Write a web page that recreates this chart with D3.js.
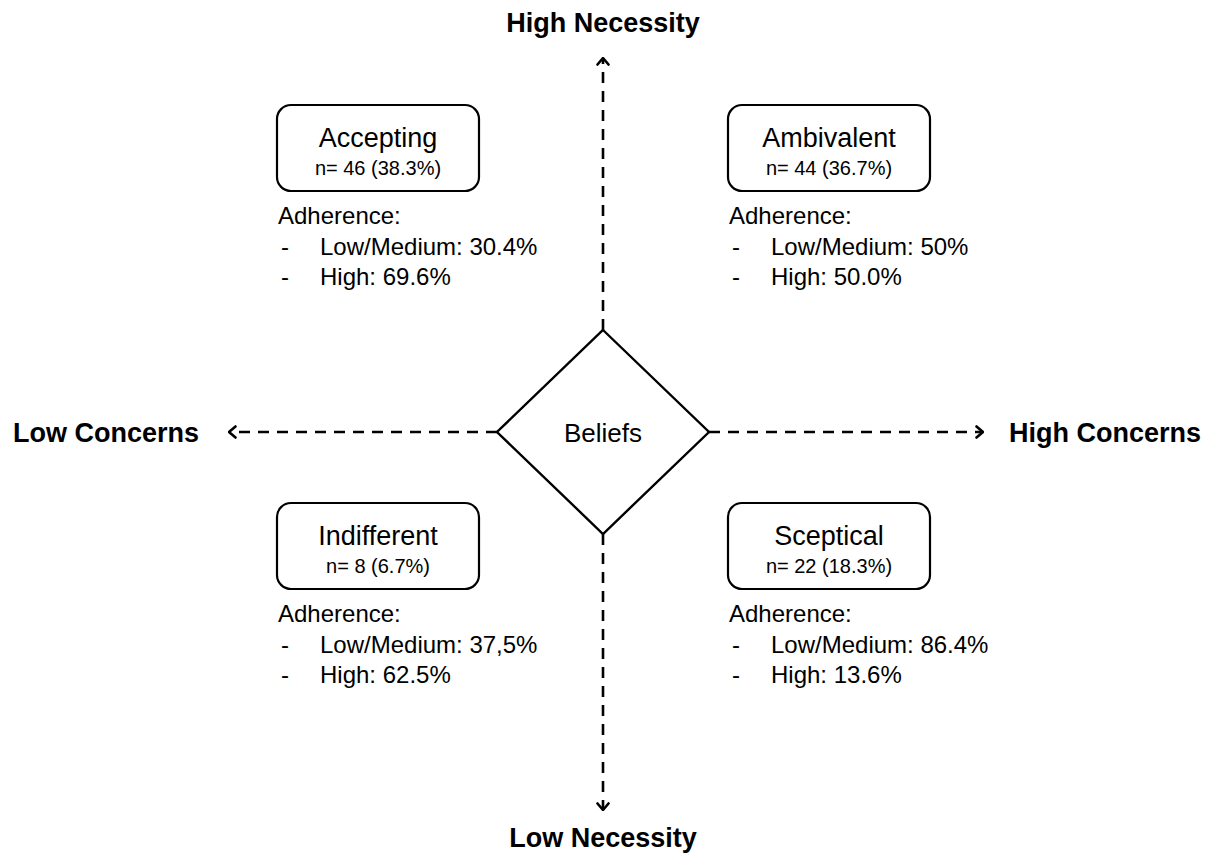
<!DOCTYPE html>
<html>
<head>
<meta charset="utf-8">
<script src="https://cdn.jsdelivr.net/npm/d3@7"></script>
<style>
  html, body { margin: 0; padding: 0; background: #fff; }
  svg { display: block; font-family: "Liberation Sans", Arial, Helvetica, sans-serif; }
</style>
</head>
<body>
<svg id="chart" width="1214" height="858"></svg>
<script>
// ---- data ----
const categories = ["Accepting", "Ambivalent", "Indifferent", "Sceptical"];
const concernLevel = ["Low", "High", "Low", "High"];
const necessityLevel = ["High", "High", "Low", "Low"];
const counts = [46, 44, 8, 22];
const shares = ["38.3%", "36.7%", "6.7%", "18.3%"];
const lowMediumAdherence = ["30.4%", "50%", "37,5%", "86.4%"];
const highAdherence = ["69.6%", "50.0%", "62.5%", "13.6%"];
const axisLabels = { top: "High Necessity", bottom: "Low Necessity", left: "Low Concerns", right: "High Concerns" };
const centerLabel = "Beliefs";

// ---- layout ----
const svg = d3.select("#chart");
const cx = 603, cy = 432;
const x = d3.scaleOrdinal().domain(["Low", "High"]).range([277, 728]);   // box left edge
const y = d3.scaleOrdinal().domain(["High", "Low"]).range([105, 503]);   // box top edge
const boxW = 202, boxH = 86;
const dx = 106, dy = 102; // diamond half sizes

const ink = "#000";

// arrow marker (open chevron)
const defs = svg.append("defs");
defs.append("marker")
  .attr("id", "chev")
  .attr("viewBox", "0 -7 10 14")
  .attr("refX", 9).attr("refY", 0)
  .attr("markerWidth", 10).attr("markerHeight", 14)
  .attr("markerUnits", "userSpaceOnUse")
  .attr("orient", "auto")
  .append("path")
  .attr("d", "M2.5,-5.5 L9,0 L2.5,5.5")
  .attr("fill", "none").attr("stroke", ink).attr("stroke-width", 2.6)
  .attr("stroke-linecap", "round").attr("stroke-linejoin", "round");

const arrows = [
  { x1: cx, y1: cy - dy, x2: cx, y2: 58 },
  { x1: cx, y1: cy + dy, x2: cx, y2: 810 },
  { x1: cx - dx, y1: cy, x2: 229, y2: cy },
  { x1: cx + dx, y1: cy, x2: 983, y2: cy }
];
svg.selectAll("line.axis").data(arrows).join("line")
  .attr("class", "axis")
  .attr("x1", d => d.x1).attr("y1", d => d.y1)
  .attr("x2", d => d.x2).attr("y2", d => d.y2)
  .attr("stroke", ink).attr("stroke-width", 2.6)
  .attr("stroke-dasharray", "11 8")
  .attr("marker-end", "url(#chev)");

// diamond
svg.append("path")
  .attr("d", d3.line()([[cx, cy - dy], [cx + dx, cy], [cx, cy + dy], [cx - dx, cy]]) + "Z")
  .attr("fill", "#fff").attr("stroke", ink).attr("stroke-width", 2.4)
  .attr("stroke-linejoin", "miter");
svg.append("text").attr("x", cx).attr("y", cy + 10)
  .attr("text-anchor", "middle").attr("font-size", 26).text(centerLabel);

// axis labels
svg.append("text").attr("x", cx).attr("y", 32).attr("text-anchor", "middle")
  .attr("font-size", 27).attr("font-weight", "bold").text(axisLabels.top);
svg.append("text").attr("x", cx).attr("y", 847).attr("text-anchor", "middle")
  .attr("font-size", 27).attr("font-weight", "bold").text(axisLabels.bottom);
svg.append("text").attr("x", 13).attr("y", 442).attr("text-anchor", "start")
  .attr("font-size", 27).attr("font-weight", "bold").text(axisLabels.left);
svg.append("text").attr("x", 1201).attr("y", 442).attr("text-anchor", "end")
  .attr("font-size", 27).attr("font-weight", "bold").text(axisLabels.right);

// quadrants
const quads = categories.map((c, i) => ({
  name: c, n: counts[i], share: shares[i],
  low: lowMediumAdherence[i], high: highAdherence[i],
  x0: x(concernLevel[i]), y0: y(necessityLevel[i])
}));

const g = svg.selectAll("g.quad").data(quads).join("g").attr("class", "quad")
  .attr("transform", d => `translate(${d.x0},${d.y0})`);

g.append("rect")
  .attr("x", 0).attr("y", 0).attr("width", boxW).attr("height", boxH)
  .attr("rx", 14).attr("ry", 14)
  .attr("fill", "#fff").attr("stroke", ink).attr("stroke-width", 2.2);

g.append("text").attr("x", boxW / 2).attr("y", 42).attr("text-anchor", "middle")
  .attr("font-size", 27).text(d => d.name);
g.append("text").attr("x", boxW / 2).attr("y", 70).attr("text-anchor", "middle")
  .attr("font-size", 20).text(d => `n= ${d.n} (${d.share})`);

g.append("text").attr("x", 1).attr("y", 119).attr("font-size", 24).text("Adherence:");
const items = d => [["Low/Medium: " + d.low, 150], ["High: " + d.high, 180]];
g.each(function(d) {
  const sel = d3.select(this);
  items(d).forEach(([t, yy]) => {
    sel.append("text").attr("x", 4).attr("y", yy).attr("font-size", 24).text("-");
    sel.append("text").attr("x", 43).attr("y", yy).attr("font-size", 24).text(t);
  });
});
</script>
</body>
</html>
